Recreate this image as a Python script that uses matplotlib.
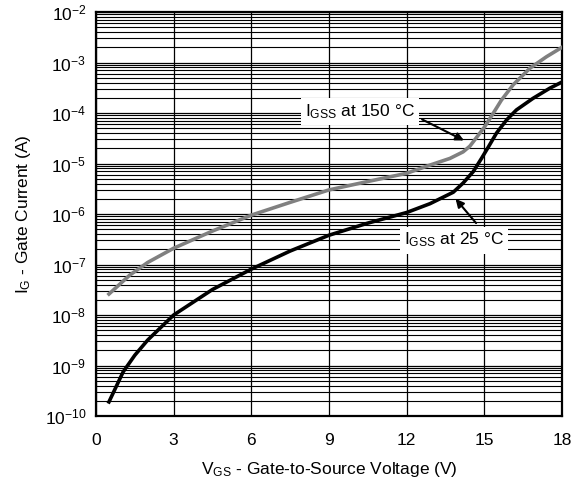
import math
import matplotlib.pyplot as plt
from matplotlib.ticker import LogLocator, FixedLocator, FuncFormatter, NullFormatter

plt.rcParams['font.family'] = ['Liberation Sans', 'DejaVu Sans']
plt.rcParams['mathtext.fontset'] = 'custom'
plt.rcParams['mathtext.rm'] = 'Liberation Sans'
plt.rcParams['mathtext.it'] = 'Liberation Sans:italic'

# I_GSS at 25 °C
vgs_25 = [0.5, 1.05, 1.5, 2.0, 3.0, 4.5, 6.0, 7.5, 9.0, 10.5, 12.0, 12.9, 13.8, 14.18, 14.57, 14.89,
          15.15, 15.47, 15.86, 16.24, 16.88, 17.53, 18.0]
ig_25 = [1.9e-10, 7.5e-10, 1.6e-9, 3.2e-9, 1.0e-8, 3.2e-8, 8.1e-8, 1.85e-7, 3.8e-7, 6.6e-7, 1.07e-6,
         1.6e-6, 2.7e-6, 4.1e-6, 6.9e-6, 1.26e-5, 2.1e-5, 4.0e-5, 7.3e-5, 1.15e-4, 1.95e-4, 3.1e-4, 4.1e-4]

# I_GSS at 150 °C
vgs_150 = [0.5, 1.31, 2.0, 3.0, 4.5, 6.0, 7.5, 9.0, 10.5, 12.0, 12.9, 13.67, 14.18, 14.44, 14.76,
           15.02, 15.34, 15.66, 16.11, 16.76, 17.4, 18.0]
ig_150 = [2.6e-8, 6.2e-8, 1.1e-7, 2.1e-7, 4.6e-7, 9.5e-7, 1.7e-6, 3.0e-6, 4.4e-6, 6.4e-6, 9.3e-6,
          1.26e-5, 1.7e-5, 2.2e-5, 3.6e-5, 5.4e-5, 9.8e-5, 1.8e-4, 3.6e-4, 7.7e-4, 1.3e-3, 2.0e-3]

x_ticks = [0, 3, 6, 9, 12, 15, 18]

fig = plt.figure(figsize=(5.87, 4.92), dpi=100)
ax = fig.add_axes([96 / 587, 1 - 416 / 492, 466 / 587, 404 / 492])

ax.set_yscale('log')
ax.set_xlim(0, 18)
ax.set_ylim(1e-10, 1e-2)

ax.xaxis.set_major_locator(FixedLocator(x_ticks))
ax.yaxis.set_major_locator(LogLocator(base=10, numticks=20))
ax.yaxis.set_minor_locator(LogLocator(base=10, subs=range(2, 10), numticks=20))
ax.yaxis.set_minor_formatter(NullFormatter())
ax.yaxis.set_major_formatter(FuncFormatter(
    lambda v, pos: r'$\mathregular{10^{%d}}$' % round(math.log10(v))))

ax.grid(True, which='major', axis='both', color='black', lw=0.9)
ax.grid(True, which='minor', axis='y', color='black', lw=0.8)
ax.tick_params(which='both', length=0, labelsize=12.5)
ax.tick_params(axis='x', pad=12)
ax.tick_params(axis='y', pad=7)
for s in ax.spines.values():
    s.set_linewidth(1.6)

ax.plot(vgs_150, ig_150, color='#808080', lw=2.6, zorder=3, solid_joinstyle='round')
ax.plot(vgs_25, ig_25, color='black', lw=2.6, zorder=3, solid_joinstyle='round')

arrow = dict(arrowstyle='-|>', color='black', lw=1.5, mutation_scale=12)
ax.annotate('', xy=(14.31, 2.7e-5), xytext=(12.5, 7.9e-5), arrowprops=arrow, zorder=5)
ax.annotate('', xy=(13.82, 2.2e-6), xytext=(14.75, 6.0e-7), arrowprops=arrow, zorder=5)

box = dict(facecolor='white', edgecolor='none', pad=3)
ax.text(10.19, 1.05e-4, r'I$_{\mathregular{GSS}}$ at 150 °C', fontsize=12.5,
        ha='center', va='center', bbox=box, zorder=4)
ax.text(13.82, 3.05e-7, r'I$_{\mathregular{GSS}}$ at 25 °C', fontsize=12.5,
        ha='center', va='center', bbox=box, zorder=4)

ax.set_xlabel(r'V$_{\mathregular{GS}}$ - Gate-to-Source Voltage (V)', fontsize=12.5, labelpad=9)
ax.set_ylabel(r'I$_{\mathregular{G}}$ - Gate Current (A)', fontsize=12.5, labelpad=8)

fig.savefig('out.png', dpi=100)
